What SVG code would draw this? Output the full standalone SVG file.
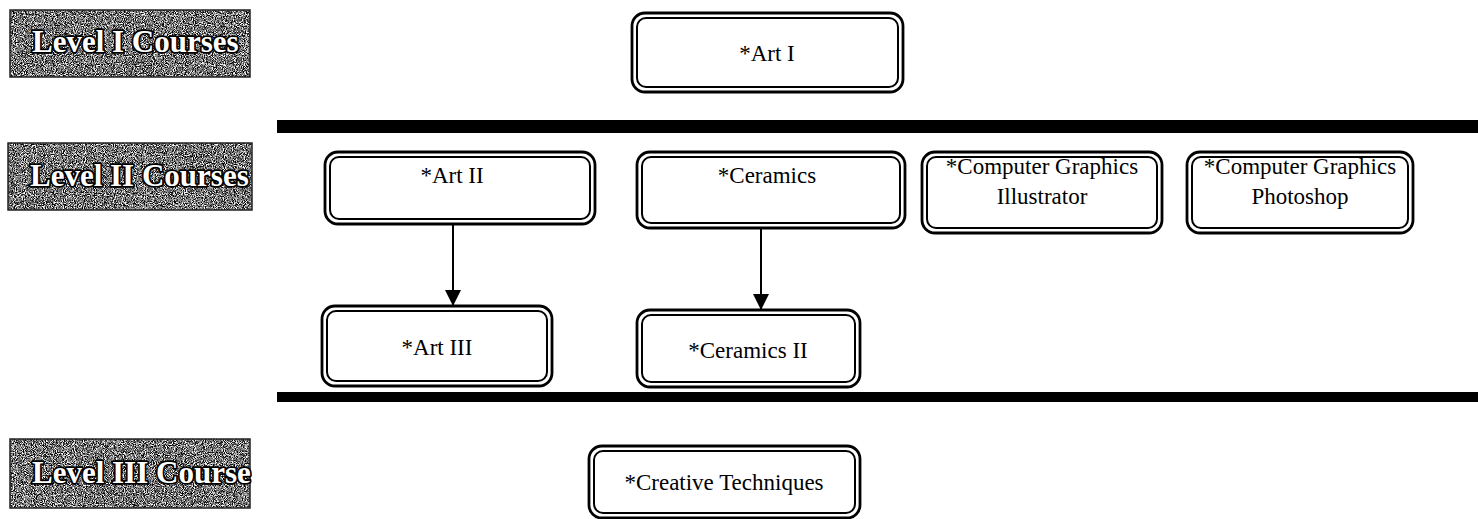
<svg xmlns="http://www.w3.org/2000/svg" width="1478" height="519" viewBox="0 0 1478 519">
<style>
.labt{font-family:"Liberation Serif","Times New Roman",serif;font-weight:bold;font-size:31px;fill:#fff;stroke:#000;stroke-width:3.5px;paint-order:stroke;stroke-linejoin:round}
.out{fill:#fff;stroke:#000;stroke-width:2.8}
.in{fill:none;stroke:#000;stroke-width:2}
.t{font-family:"Liberation Serif","Times New Roman",serif;font-size:23px;fill:#000;text-anchor:middle}
.bar{fill:#000}
.con{stroke:#000;stroke-width:2;fill:none}
</style>
<defs>
<filter id="grain" x="0" y="0" width="100%" height="100%" color-interpolation-filters="sRGB">
<feTurbulence type="fractalNoise" baseFrequency="1.1" numOctaves="1" seed="4" result="n"/>
<feColorMatrix in="n" type="matrix" values="3 0 0 0 -1.05 3 0 0 0 -1.05 3 0 0 0 -1.05 0 0 0 0 1" result="g"/>
<feComposite in="g" in2="SourceGraphic" operator="in"/>
</filter>
<marker id="arr" viewBox="0 0 16 16" refX="16" refY="8" markerWidth="16" markerHeight="16" markerUnits="userSpaceOnUse" orient="auto">
<path d="M0 0 L16 8 L0 16 Z" fill="#000"/>
</marker>
</defs>

<g id="level1-label">
<rect x="10" y="10" width="240" height="67" fill="#000" filter="url(#grain)"/>
<rect x="10" y="10" width="240" height="67" fill="none" stroke="#222" stroke-width="1.5"/>
<text class="labt" x="32" y="52">Level I Courses</text>
</g>
<g id="level2-label">
<rect x="8" y="143" width="244" height="67" fill="#000" filter="url(#grain)"/>
<rect x="8" y="143" width="244" height="67" fill="none" stroke="#222" stroke-width="1.5"/>
<text class="labt" x="30" y="186">Level II Courses</text>
</g>
<g id="level3-label">
<rect x="10" y="439" width="240" height="69" fill="#000" filter="url(#grain)"/>
<rect x="10" y="439" width="240" height="69" fill="none" stroke="#222" stroke-width="1.5"/>
<text class="labt" x="32" y="483">Level III Course</text>
</g>

<g id="dividers">
<rect class="bar" x="277" y="120" width="1201" height="13"/>
<rect class="bar" x="277" y="392" width="1201" height="10"/>
</g>

<g id="art1">
<rect class="out" x="632" y="13" width="271" height="79" rx="13"/>
<rect class="in" x="637" y="18" width="261" height="69" rx="9"/>
<text class="t" x="767" y="61">*Art I</text>
</g>
<g id="art2">
<rect class="out" x="325" y="152" width="270" height="72" rx="13"/>
<rect class="in" x="330" y="157" width="260" height="62" rx="9"/>
<text class="t" x="452" y="183">*Art II</text>
</g>
<g id="ceramics">
<rect class="out" x="637" y="152" width="268" height="76" rx="13"/>
<rect class="in" x="642" y="157" width="258" height="66" rx="9"/>
<text class="t" x="767" y="183">*Ceramics</text>
</g>
<g id="cg-illustrator">
<rect class="out" x="922" y="152" width="240" height="81" rx="13"/>
<rect class="in" x="927" y="157" width="230" height="71" rx="9"/>
<text class="t" x="1042" y="174">*Computer Graphics</text>
<text class="t" x="1042" y="204">Illustrator</text>
</g>
<g id="cg-photoshop">
<rect class="out" x="1187" y="152" width="226" height="81" rx="13"/>
<rect class="in" x="1192" y="157" width="216" height="71" rx="9"/>
<text class="t" x="1300" y="174">*Computer Graphics</text>
<text class="t" x="1300" y="204">Photoshop</text>
</g>
<g id="art3">
<rect class="out" x="322" y="306" width="230" height="80" rx="13"/>
<rect class="in" x="327" y="311" width="220" height="70" rx="9"/>
<text class="t" x="437" y="355">*Art III</text>
</g>
<g id="ceramics2">
<rect class="out" x="637" y="310" width="223" height="77" rx="13"/>
<rect class="in" x="642" y="315" width="213" height="67" rx="9"/>
<text class="t" x="748" y="358">*Ceramics II</text>
</g>
<g id="creative">
<rect class="out" x="589" y="446" width="271" height="72" rx="13"/>
<rect class="in" x="594" y="451" width="261" height="62" rx="9"/>
<text class="t" x="724" y="490">*Creative Techniques</text>
</g>

<g id="connectors">
<line class="con" x1="453" y1="224" x2="453" y2="306" marker-end="url(#arr)"/>
<line class="con" x1="761" y1="228" x2="761" y2="310" marker-end="url(#arr)"/>
</g>
</svg>
